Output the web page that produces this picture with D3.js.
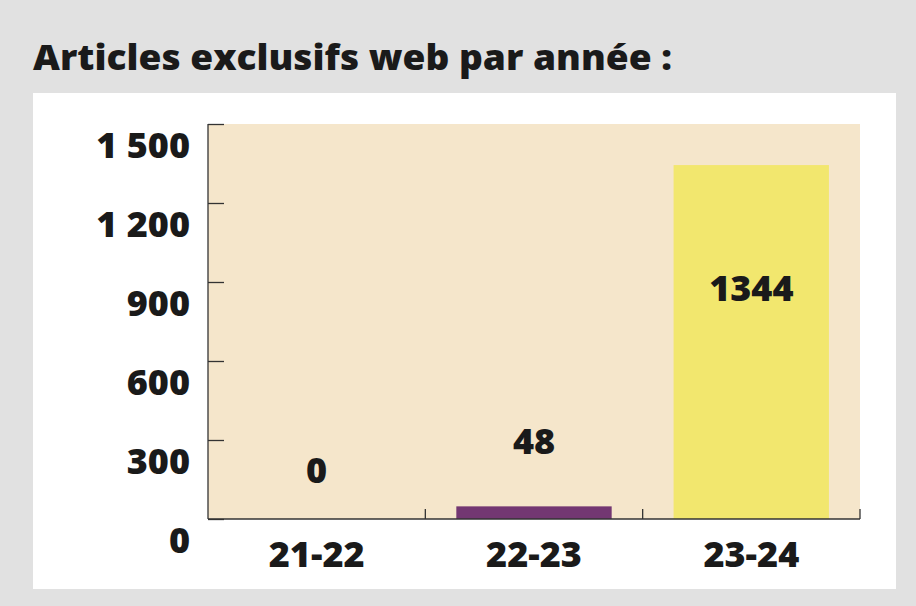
<!DOCTYPE html>
<html><head><meta charset="utf-8">
<script src="https://cdn.jsdelivr.net/npm/d3@7"></script>
<style>html,body{margin:0;padding:0;background:#e1e1e1;}svg{display:block;}</style>
</head><body>
<script>
const categories = ["21-22", "22-23", "23-24"];
const values = [0, 48, 1344];
const yTicks = [0, 300, 600, 900, 1200, 1500];
const yTickLabels = ["0", "300", "600", "900", "1 200", "1 500"];
const title = "Articles exclusifs web par année :";
const barColors = ["#733772", "#733772", "#f2e76e"];

(function(){
const W = 916, H = 606;
const svg = d3.select("body").append("svg").attr("width", W).attr("height", H);
svg.append("rect").attr("width", W).attr("height", H).attr("fill", "#e1e1e1");
svg.append("rect").attr("x", 33).attr("y", 93).attr("width", 863).attr("height", 496).attr("fill", "#ffffff");

const font = "'Open Sans', Lato, sans-serif";
const tt = svg.append("text").attr("x", 33).attr("y", 70).text(title)
  .attr("font-family", font).attr("font-weight", 800).attr("font-size", 36).attr("fill", "#1a1a1a");
const tw = tt.node().getComputedTextLength();
if (Math.abs(tw - 639) > 4) tt.attr("textLength", 639).attr("lengthAdjust", "spacingAndGlyphs");

const pL = 208, pR = 860, pT = 124, pB = 519;
svg.append("rect").attr("x", pL).attr("y", pT).attr("width", pR-pL).attr("height", pB-pT).attr("fill", "#f5e6cb");

const x = d3.scaleBand().domain(categories).range([pL, pR]).paddingInner(0.285).paddingOuter(0.143);
const xb = d3.scaleBand().domain(categories).range([pL, pR]);
const y = d3.scaleLinear().domain([0, 1500]).range([pB, pT]);

svg.selectAll("rect.bar").data(values).join("rect").attr("class", "bar")
  .attr("x", (d,i) => x(categories[i])).attr("width", x.bandwidth())
  .attr("y", d => y(d)).attr("height", d => pB - y(d))
  .attr("fill", (d,i) => barColors[i]);

// y axis
const yAxis = d3.axisRight(y).tickValues(yTicks).tickSize(16).tickFormat("");
const gy = svg.append("g").attr("transform", `translate(${pL},0)`).call(yAxis);
gy.select(".domain").attr("stroke", "#333").attr("stroke-width", 1.3).attr("d", `M0,${pT}V${pB}`);
gy.selectAll(".tick line").attr("stroke", "#333").attr("stroke-width", 1.3);
svg.selectAll("text.ylab").data(yTicks).join("text").attr("class", "ylab")
  .attr("x", 190).attr("y", d => y(d) + 21).attr("dy", "0.36em")
  .attr("text-anchor", "end").text((d,i) => yTickLabels[i])
  .attr("font-family", font).attr("font-weight", 800).attr("font-size", 36).attr("fill", "#1a1a1a");

// x axis
const gx = svg.append("g");
gx.append("line").attr("x1", pL).attr("x2", pR).attr("y1", pB).attr("y2", pB)
  .attr("stroke", "#333").attr("stroke-width", 1.3);
const bounds = categories.map(c => xb(c) + xb.bandwidth());
gx.selectAll("line.t").data(bounds).join("line").attr("class", "t")
  .attr("x1", d => d).attr("x2", d => d).attr("y1", pB).attr("y2", pB - 10)
  .attr("stroke", "#333").attr("stroke-width", 1.3);
svg.selectAll("text.xlab").data(categories).join("text").attr("class", "xlab")
  .attr("x", d => xb(d) + xb.bandwidth()/2).attr("y", 554).attr("dy", "0.36em")
  .attr("text-anchor", "middle").text(d => d)
  .attr("font-family", font).attr("font-weight", 800).attr("font-size", 36).attr("fill", "#1a1a1a");

// value labels
const labelDy = [-49, -65, 123];
svg.selectAll("text.val").data(values).join("text").attr("class", "val")
  .attr("x", (d,i) => xb(categories[i]) + xb.bandwidth()/2)
  .attr("y", (d,i) => y(d) + labelDy[i]).attr("dy", "0.36em")
  .attr("text-anchor", "middle").text(d => d)
  .attr("font-family", font).attr("font-weight", 800).attr("font-size", 36).attr("fill", "#1a1a1a");
})();
</script>
</body></html>
